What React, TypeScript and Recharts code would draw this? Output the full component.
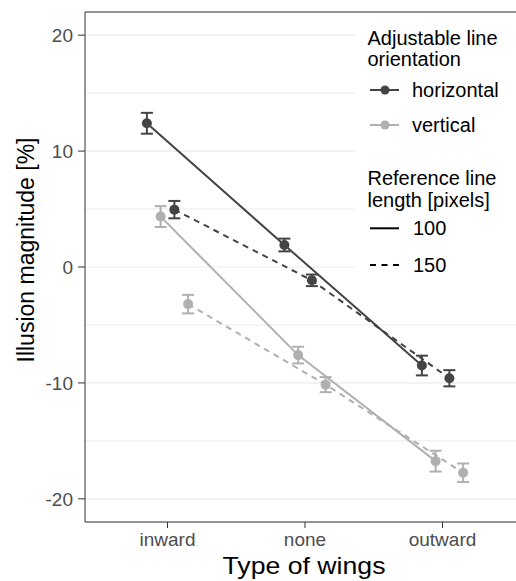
import {
  CartesianGrid,
  ComposedChart,
  ErrorBar,
  Line,
  ReferenceLine,
  XAxis,
  YAxis,
} from "recharts";

// Type of wings (x categories)
const wings = ["inward", "none", "outward"];
const yTicks = [-20, -10, 0, 10, 20];
const minorTicks = [-15, -5, 5, 15];

// Illusion magnitude [%], mean and error per wing type
const horizontal100 = [12.4, 1.9, -8.5];
const horizontal100Err = [0.9, 0.55, 0.85];
const horizontal150 = [4.95, -1.15, -9.6];
const horizontal150Err = [0.75, 0.5, 0.7];
const vertical100 = [4.35, -7.6, -16.75];
const vertical100Err = [0.9, 0.72, 0.9];
const vertical150 = [-3.2, -10.15, -17.75];
const vertical150Err = [0.8, 0.65, 0.8];

const DARK = "#444444";
const LIGHT = "#b0b0b0";
const FONT = "'Liberation Sans', Arial, Helvetica, sans-serif";

// dodge order: horizontal-100, vertical-100, horizontal-150, vertical-150
const series = [
  { key: "h100", values: horizontal100, errors: horizontal100Err, color: DARK, dash: undefined, dodge: -0.15 },
  { key: "v100", values: vertical100, errors: vertical100Err, color: LIGHT, dash: undefined, dodge: -0.05 },
  { key: "h150", values: horizontal150, errors: horizontal150Err, color: DARK, dash: "6 5", dodge: 0.05 },
  { key: "v150", values: vertical150, errors: vertical150Err, color: LIGHT, dash: "6 5", dodge: 0.15 },
];

function YTitle() {
  return (
    <text
      transform="translate(34,250) rotate(-90)"
      textAnchor="middle"
      fontSize={23}
      fontFamily={FONT}
      fill="#000"
    >
      Illusion magnitude [%]
    </text>
  );
}

function XTitle() {
  return (
    <text
      x={304}
      y={574}
      textAnchor="middle"
      fontSize={24}
      fontFamily={FONT}
      fill="#000"
      textLength={163}
      lengthAdjust="spacingAndGlyphs"
    >
      Type of wings
    </text>
  );
}

function LegendBox() {
  const txt = { fontFamily: FONT, fill: "#000" };
  return (
    <svg
      width={161}
      height={272}
      style={{ position: "absolute", left: 355, top: 13 }}
    >
      <rect x={0} y={0} width={161} height={272} fill="#fff" />
      <text x={12.5} y={31.5} fontSize={20} {...txt}>Adjustable line</text>
      <text x={12.5} y={53} fontSize={20} {...txt}>orientation</text>

      <line x1={15} x2={44} y1={77} y2={77} stroke={DARK} strokeWidth={2} />
      <circle cx={30} cy={77} r={4.5} fill={DARK} />
      <text x={57} y={84.3} fontSize={20} {...txt}>horizontal</text>

      <line x1={15} x2={44} y1={112} y2={112} stroke={LIGHT} strokeWidth={2} />
      <circle cx={30} cy={112} r={4.5} fill={LIGHT} />
      <text x={57} y={118.7} fontSize={20} {...txt}>vertical</text>

      <text x={12.5} y={172} fontSize={20} {...txt}>Reference line</text>
      <text x={12.5} y={193.5} fontSize={20} {...txt}>length [pixels]</text>

      <line x1={15} x2={44} y1={215.3} y2={215.3} stroke="#000" strokeWidth={2} />
      <text x={58} y={222} fontSize={20} {...txt}>100</text>

      <line x1={15} x2={44} y1={252} y2={252} stroke="#000" strokeWidth={2} strokeDasharray="6 5.5" />
      <text x={58} y={258.7} fontSize={20} {...txt}>150</text>
    </svg>
  );
}

export default function App() {
  return (
    <div
      style={{
        position: "absolute",
        left: 0,
        top: 0,
        width: 516,
        height: 581,
        overflow: "hidden",
        background: "#fff",
      }}
    >
      <ComposedChart
        width={530}
        height={581}
        margin={{ top: 12, right: 5, bottom: 0, left: 0 }}
        style={{ fontFamily: FONT }}
      >
        <CartesianGrid vertical={false} stroke="#ebebeb" strokeWidth={1.2} />
        {minorTicks.map((v) => (
          <ReferenceLine key={v} y={v} stroke="#ebebeb" strokeWidth={1} />
        ))}
        <ReferenceLine y={22} stroke="#333" strokeWidth={1.2} />
        <XAxis
          type="number"
          dataKey="x"
          domain={[-0.6, 2.6]}
          ticks={[0, 1, 2]}
          allowDataOverflow
          tickFormatter={(i: number) => wings[i]}
          height={59}
          tickSize={6}
          tickMargin={5}
          stroke="#333"
          tick={{ fill: "#4d4d4d", fontSize: 19, fontFamily: FONT }}
          label={<XTitle />}
        />
        <YAxis
          type="number"
          domain={[-22, 22]}
          ticks={yTicks}
          allowDataOverflow
          width={85}
          tickSize={7}
          tickMargin={5}
          stroke="#333"
          tick={{ fill: "#4d4d4d", fontSize: 19, fontFamily: FONT }}
          label={<YTitle />}
        />
        {series.map((s) => (
          <Line
            key={s.key}
            data={s.values.map((v, i) => ({ x: i + s.dodge, y: v, err: s.errors[i] }))}
            dataKey="y"
            stroke={s.color}
            strokeWidth={2}
            strokeDasharray={s.dash}
            dot={{ r: 5, fill: s.color, stroke: s.color, strokeWidth: 0 }}
            activeDot={false}
            isAnimationActive={false}
          >
            <ErrorBar
              dataKey="err"
              direction="y"
              width={6}
              stroke={s.color}
              strokeWidth={2}
              isAnimationActive={false}
            />
          </Line>
        ))}
      </ComposedChart>
      <LegendBox />
    </div>
  );
}
